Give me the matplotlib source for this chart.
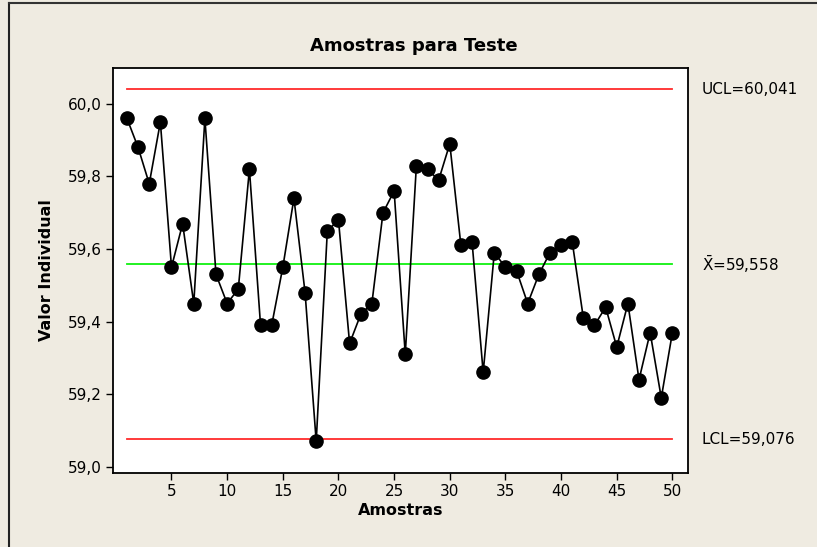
from __future__ import annotations

import matplotlib

matplotlib.use("Agg")

import matplotlib.pyplot as plt
from matplotlib.lines import Line2D
from matplotlib.ticker import FuncFormatter

# Individual values (samples 1..50)
sample_numbers = list(range(1, 51))

individual_values = [
    59.96, 59.88, 59.78, 59.95, 59.55, 59.67, 59.45, 59.96, 59.53, 59.45,
    59.49, 59.82, 59.39, 59.39, 59.55, 59.74, 59.48, 59.07, 59.65, 59.68,
    59.34, 59.42, 59.45, 59.70, 59.76, 59.31, 59.83, 59.82, 59.79, 59.89,
    59.61, 59.62, 59.26, 59.59, 59.55, 59.54, 59.45, 59.53, 59.59, 59.61,
    59.62, 59.41, 59.39, 59.44, 59.33, 59.45, 59.24, 59.37, 59.19, 59.37,
]

control_names = ["UCL", "X̄", "LCL"]
control_values = [60.041, 59.558, 59.076]

x_ticks = [5, 10, 15, 20, 25, 30, 35, 40, 45, 50]
y_ticks = [59.0, 59.2, 59.4, 59.6, 59.8, 60.0]

BACKGROUND = "#efebe1"
LIMIT_COLOR = "#ff2b2b"
CENTER_COLOR = "#10f010"


def comma_decimal(value: float, decimals: int) -> str:
    return f"{value:.{decimals}f}".replace(".", ",")


def main() -> None:
    plt.rcParams["font.family"] = ["DejaVu Sans"]
    plt.rcParams["mathtext.fontset"] = "dejavusans"

    figure = plt.figure(figsize=(8.17, 5.47), dpi=100)
    figure.patch.set_facecolor(BACKGROUND)

    # dark frame on the left and top edge of the picture
    figure.add_artist(
        Line2D([0.011, 0.011], [0.0, 0.995], transform=figure.transFigure,
               color="#222222", linewidth=1.5)
    )
    figure.add_artist(
        Line2D([0.011, 1.0], [0.995, 0.995], transform=figure.transFigure,
               color="#333333", linewidth=1.5)
    )

    axis = figure.add_axes([0.1377, 0.1353, 0.7044, 0.7404])
    axis.set_facecolor("white")

    line_colors = [LIMIT_COLOR, CENTER_COLOR, LIMIT_COLOR]
    for name, value, color in zip(control_names, control_values, line_colors):
        axis.plot(
            [sample_numbers[0], sample_numbers[-1]],
            [value, value],
            color=color,
            linewidth=1.3,
            zorder=1,
        )
        if name == "X̄":
            label = r"$\bar{\mathrm{X}}$=" + comma_decimal(value, 3)
        else:
            label = f"{name}={comma_decimal(value, 3)}"
        axis.annotate(
            label,
            xy=(1.0, value),
            xycoords=("axes fraction", "data"),
            xytext=(10, 0),
            textcoords="offset points",
            ha="left",
            va="center",
            fontsize=11,
            annotation_clip=False,
        )

    axis.plot(
        sample_numbers,
        individual_values,
        color="black",
        linewidth=1.2,
        marker="o",
        markersize=9.5,
        zorder=3,
    )

    axis.set_xlim(-0.3, 51.4)
    axis.set_ylim(58.983, 60.099)
    axis.set_xticks(x_ticks)
    axis.set_yticks(y_ticks)
    axis.yaxis.set_major_formatter(
        FuncFormatter(lambda value, _: comma_decimal(value, 1))
    )
    axis.tick_params(axis="both", labelsize=11, length=5, width=1.0,
                     direction="out", pad=3)

    for spine in axis.spines.values():
        spine.set_linewidth(1.3)

    axis.set_xlabel("Amostras", fontsize=11.5, fontweight="bold", labelpad=3)
    axis.set_ylabel("Valor Individual", fontsize=11.5, fontweight="bold",
                    labelpad=10)

    figure.text(0.507, 0.916, "Amostras para Teste", ha="center", va="center",
                fontsize=13, fontweight="bold")

    figure.savefig("out.png", dpi=100, facecolor=BACKGROUND)
    plt.close(figure)


if __name__ == "__main__":
    main()
